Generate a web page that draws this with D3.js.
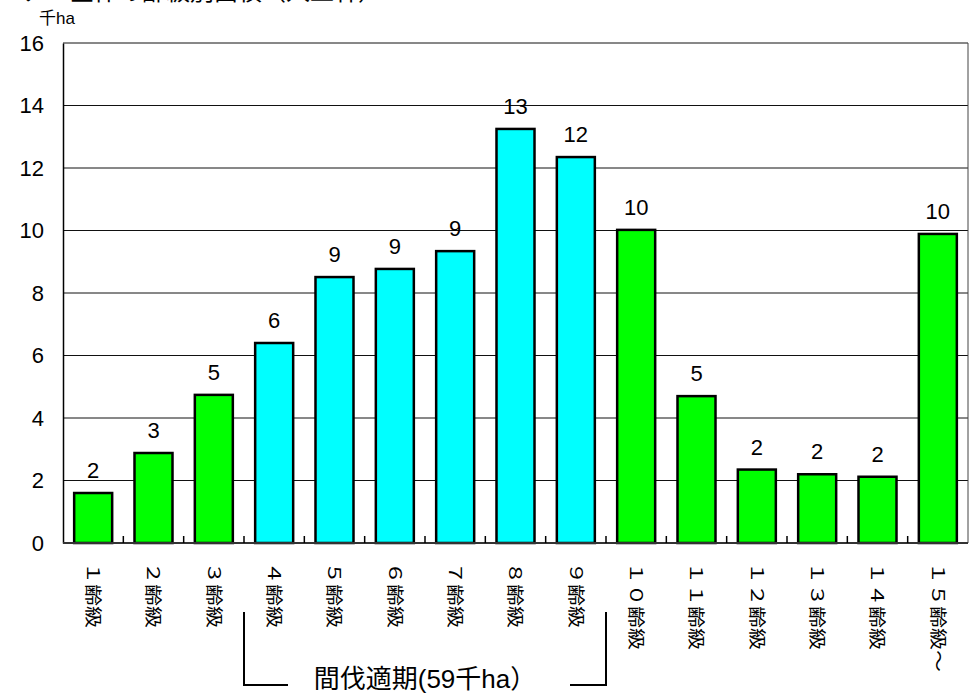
<!DOCTYPE html>
<meta charset="utf-8">
<style>

body {
  margin: 0;
  background: #fff;
}

text {
  font-family: "Liberation Sans", "Noto Sans CJK JP", sans-serif;
  fill: #000;
}

</style>
<body>
<script src="https://cdn.jsdelivr.net/npm/d3@7"></script>
<script>

var categories = ["１齢級", "２齢級", "３齢級", "４齢級", "５齢級", "６齢級", "７齢級", "８齢級",
    "９齢級", "１０齢級", "１１齢級", "１２齢級", "１３齢級", "１４齢級", "１５齢級～"];

// thousand ha
var areas = [1.6, 2.88, 4.74, 6.4, 8.51, 8.77, 9.34, 13.25, 12.35, 10.02, 4.7, 2.35, 2.2, 2.12, 9.89];

// thinning period (4 - 9 age class) drawn in cyan
var thinning = ["４齢級", "５齢級", "６齢級", "７齢級", "８齢級", "９齢級"];

var yTicks = [0, 2, 4, 6, 8, 10, 12, 14, 16];

var width = 978,
    height = 693,
    plotLeft = 63,
    plotRight = 968,
    plotTop = 43,
    plotBottom = 543;

var svg = d3.select("body").append("svg")
    .attr("width", width)
    .attr("height", height);

var x = d3.scaleBand()
    .domain(categories)
    .range([plotLeft, plotRight])
    .paddingInner(0.37)
    .paddingOuter(0.185);

var xb = d3.scaleBand()
    .domain(categories)
    .range([plotLeft, plotRight]);

var y = d3.scaleLinear()
    .domain([0, 16])
    .range([plotBottom, plotTop]);

// title, mostly cut off by the page edge
svg.append("text")
    .attr("x", 22)
    .attr("y", 0)
    .style("font-size", "24px")
    .text("ア　全体の齢級別面積（人工林）");

svg.append("text")
    .attr("x", 39)
    .attr("y", 24)
    .style("font-size", "17px")
    .text("千ha");

// grid
svg.append("g")
  .selectAll("line")
    .data(yTicks.slice(1))
  .enter().append("line")
    .attr("x1", plotLeft)
    .attr("x2", plotRight)
    .attr("y1", function(d) { return y(d); })
    .attr("y2", function(d) { return y(d); })
    .attr("stroke", "#111")
    .attr("stroke-width", 1);

svg.append("line")
    .attr("x1", plotRight)
    .attr("x2", plotRight)
    .attr("y1", plotTop)
    .attr("y2", plotBottom)
    .attr("stroke", "#444")
    .attr("stroke-width", 1);

var yAxis = svg.append("g")
    .attr("transform", "translate(" + plotLeft + ",0)")
    .call(d3.axisLeft(y).tickValues(yTicks).tickSize(0).tickPadding(19));

yAxis.select(".domain")
    .attr("stroke", "#000")
    .attr("stroke-width", 1.5);

yAxis.selectAll("text")
    .style("font-size", "22px")
    .style("font-family", null);

// bars
svg.append("g")
  .selectAll("rect")
    .data(areas)
  .enter().append("rect")
    .attr("x", function(d, i) { return x(categories[i]); })
    .attr("y", function(d) { return y(d); })
    .attr("width", x.bandwidth())
    .attr("height", function(d) { return y(0) - y(d); })
    .attr("fill", function(d, i) { return thinning.indexOf(categories[i]) >= 0 ? "#00ffff" : "#00ff00"; })
    .attr("stroke", "#000")
    .attr("stroke-width", 2.5);

svg.append("g")
  .selectAll("text")
    .data(areas)
  .enter().append("text")
    .attr("x", function(d, i) { return x(categories[i]) + x.bandwidth() / 2; })
    .attr("y", function(d) { return y(d) - 15; })
    .attr("text-anchor", "middle")
    .style("font-size", "22px")
    .text(function(d) { return d3.format(".0f")(d); });

// x axis with inward ticks on the band edges
var xAxis = svg.append("g")
    .attr("transform", "translate(0," + plotBottom + ")");

xAxis.append("line")
    .attr("x1", plotLeft)
    .attr("x2", plotRight)
    .attr("stroke", "#333")
    .attr("stroke-width", 2);

xAxis.selectAll(".tick")
    .data(categories.slice(1))
  .enter().append("line")
    .attr("x1", function(d) { return xb(d); })
    .attr("x2", function(d) { return xb(d); })
    .attr("y1", 0)
    .attr("y2", -7)
    .attr("stroke", "#000")
    .attr("stroke-width", 1.5);

xAxis.selectAll(".label")
    .data(categories)
  .enter().append("text")
    .attr("transform", function(d) {
      return "translate(" + (xb(d) + xb.bandwidth() / 2) + ",19) rotate(90) scale(1,0.8)";
    })
    .attr("dominant-baseline", "central")
    .style("font-size", "22px")
    .text(function(d) { return d; });

// bracket for the thinning period
var bx0 = xb(thinning[0]),
    bx1 = xb(thinning[thinning.length - 1]) + xb.bandwidth();

svg.append("path")
    .attr("d", "M" + bx0 + ",612V685H288")
    .attr("fill", "none")
    .attr("stroke", "#000")
    .attr("stroke-width", 2);

svg.append("path")
    .attr("d", "M" + bx1 + ",612V685H570")
    .attr("fill", "none")
    .attr("stroke", "#000")
    .attr("stroke-width", 2);

svg.append("text")
    .attr("x", (bx0 + bx1) / 2)
    .attr("y", 688)
    .attr("text-anchor", "middle")
    .style("font-size", "26px")
    .text("間伐適期(59千ha）");

</script>
